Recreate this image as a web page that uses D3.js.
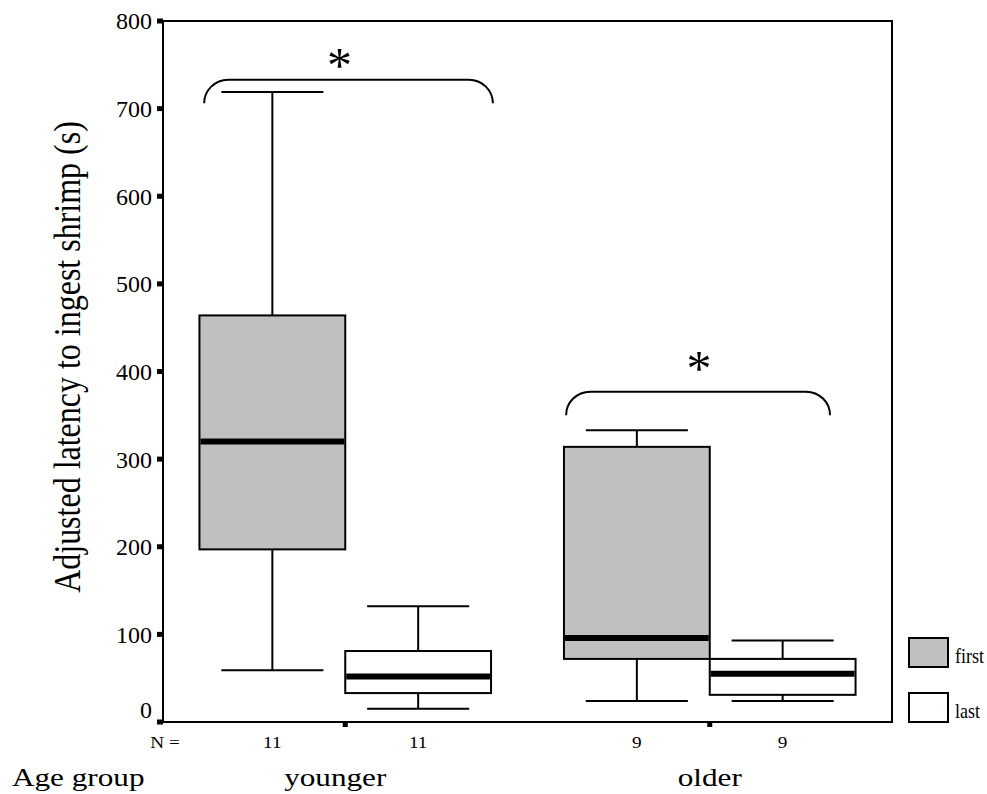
<!DOCTYPE html>
<html>
<head>
<meta charset="utf-8">
<script src="https://cdn.jsdelivr.net/npm/d3@7"></script>
<style>
  body { margin: 0; background: #fff; }
</style>
</head>
<body>
<svg id="chart" width="987" height="794"></svg>
<script>
// ---- data ----
const groups = ["younger", "older"];
const sessions = ["first", "last"];
const counts = [[11, 11], [9, 9]];
const whiskerLow = [[59, 15], [24, 24]];
const quartile1 = [[197, 33], [72, 31]];
const medians = [[320, 52], [96, 55]];
const quartile3 = [[464, 81], [314, 72]];
const whiskerHigh = [[719, 132], [333, 93]];
const yTicks = [0, 100, 200, 300, 400, 500, 600, 700, 800];
const sessionFill = ["#c0c0c0", "#ffffff"];
// significance brackets: bracket height and foot height (in seconds)
const bracketGroups = ["younger", "older"];
const bracketTop = [733, 377];
const bracketFoot = [706, 350];

// ---- layout ----
const FONT = "'Liberation Serif', 'Times New Roman', Times, serif";
const frame = { left: 163, right: 892, top: 21, bottom: 722 };
const svg = d3.select("#chart").style("font-family", FONT);

const y = d3.scaleLinear().domain([0, 800]).range([frame.bottom, frame.top]);
const xGroup = d3.scaleBand().domain(groups).range([frame.left, frame.right]);
const xSession = d3.scaleBand().domain(sessions)
  .range([xGroup.bandwidth() * 0.1, xGroup.bandwidth() * 0.9]);

const boxes = [];
groups.forEach((g, gi) => sessions.forEach((s, si) => {
  boxes.push({
    group: g, session: s, n: counts[gi][si],
    lo: whiskerLow[gi][si], q1: quartile1[gi][si], med: medians[gi][si],
    q3: quartile3[gi][si], hi: whiskerHigh[gi][si], fill: sessionFill[si],
    x0: xGroup(g) + xSession(s), w: xSession.bandwidth()
  });
}));

function label(sel) {
  return sel.style("font-family", FONT).attr("fill", "#000");
}

// frame
svg.append("rect")
  .attr("x", frame.left).attr("y", frame.top)
  .attr("width", frame.right - frame.left).attr("height", frame.bottom - frame.top)
  .attr("fill", "none").attr("stroke", "#000").attr("stroke-width", 2);

// y axis tick marks and labels
svg.selectAll(".ytick").data(yTicks).join("rect")
  .attr("x", frame.left - 6).attr("y", d => y(d) - 2.5)
  .attr("width", 6).attr("height", 5).attr("fill", "#000");
label(svg.selectAll(".ylab").data(yTicks).join("text"))
  .attr("x", frame.left - 11)
  .attr("y", d => y(d) + (d === 0 ? -12 : 0))
  .attr("dy", "0.35em")
  .attr("text-anchor", "end")
  .attr("font-size", 24)
  .text(d => d);

// x tick marks at group centres
svg.selectAll(".xtick").data(groups).join("rect")
  .attr("x", d => xGroup(d) + xGroup.bandwidth() / 2 - 2.5)
  .attr("y", frame.bottom).attr("width", 5).attr("height", 5).attr("fill", "#000");

// whiskers
const capW = d => d.w * 0.7;
const whisk = svg.append("g").attr("stroke", "#000").attr("stroke-width", 2);
boxes.forEach(d => {
  const cx = d.x0 + d.w / 2;
  whisk.append("line").attr("x1", cx).attr("x2", cx).attr("y1", y(d.hi)).attr("y2", y(d.q3));
  whisk.append("line").attr("x1", cx).attr("x2", cx).attr("y1", y(d.q1)).attr("y2", y(d.lo));
  whisk.append("line").attr("x1", cx - capW(d) / 2).attr("x2", cx + capW(d) / 2)
    .attr("y1", y(d.hi)).attr("y2", y(d.hi));
  whisk.append("line").attr("x1", cx - capW(d) / 2).attr("x2", cx + capW(d) / 2)
    .attr("y1", y(d.lo)).attr("y2", y(d.lo));
});

// boxes
svg.selectAll(".box").data(boxes).join("rect")
  .attr("x", d => d.x0).attr("y", d => y(d.q3))
  .attr("width", d => d.w).attr("height", d => y(d.q1) - y(d.q3))
  .attr("fill", d => d.fill).attr("stroke", "#000").attr("stroke-width", 2);

// medians
svg.selectAll(".med").data(boxes).join("line")
  .attr("x1", d => d.x0 + 1).attr("x2", d => d.x0 + d.w - 1)
  .attr("y1", d => y(d.med)).attr("y2", d => y(d.med))
  .attr("stroke", "#000").attr("stroke-width", 6);

// significance brackets with asterisks
const bracketSpan = { younger: [0.113, 0.905], older: [0.106, 0.83] };
const starShift = { younger: [-9, 2], older: [1, -7] };
bracketGroups.forEach((g, i) => {
  const x1 = xGroup(g) + xGroup.bandwidth() * bracketSpan[g][0];
  const x2 = xGroup(g) + xGroup.bandwidth() * bracketSpan[g][1];
  const yt = y(bracketTop[i]), yf = y(bracketFoot[i]);
  const rx = 24, ry = yf - yt;
  svg.append("path")
    .attr("d", `M${x1},${yf} A${rx},${ry} 0 0 1 ${x1 + rx},${yt} L${x2 - rx},${yt} A${rx},${ry} 0 0 1 ${x2},${yf}`)
    .attr("fill", "none").attr("stroke", "#000").attr("stroke-width", 2);
  label(svg.append("text"))
    .attr("x", (x1 + x2) / 2 + starShift[g][0]).attr("y", yt + starShift[g][1])
    .attr("text-anchor", "middle").attr("font-size", 50)
    .text("*");
});

// N labels
const nY = 748;
label(svg.append("text"))
  .attr("transform", `translate(${frame.left + 2},${nY}) scale(1.2,1)`)
  .attr("text-anchor", "middle").attr("font-size", 16).text("N =");
label(svg.selectAll(".nlab").data(boxes).join("text"))
  .attr("transform", d => `translate(${d.x0 + d.w / 2},${nY}) scale(1.2,1)`)
  .attr("text-anchor", "middle").attr("font-size", 16)
  .text(d => d.n);

// group labels
const groupShift = { younger: -10, older: 0 };
label(svg.append("text"))
  .attr("transform", `translate(12,786) scale(1.2,1)`)
  .attr("font-size", 26).text("Age group");
label(svg.selectAll(".glab").data(groups).join("text"))
  .attr("transform", d => `translate(${xGroup(d) + xGroup.bandwidth() / 2 + groupShift[d]},786) scale(1.2,1)`)
  .attr("text-anchor", "middle").attr("font-size", 26)
  .text(d => d);

// y axis title
label(svg.append("text"))
  .attr("transform", `translate(80,357) scale(1.2,1) rotate(-90)`)
  .attr("text-anchor", "middle").attr("font-size", 32)
  .text("Adjusted latency to ingest shrimp (s)");

// legend
const legend = svg.append("g");
sessions.forEach((s, i) => {
  const ly = 638 + i * 55;
  legend.append("rect").attr("x", 909).attr("y", ly).attr("width", 39).attr("height", 29)
    .attr("fill", sessionFill[i]).attr("stroke", "#000").attr("stroke-width", 2);
  label(legend.append("text"))
    .attr("transform", `translate(955,${ly + 25}) scale(0.9,1)`)
    .attr("font-size", 20).text(s);
});
</script>
</body>
</html>
